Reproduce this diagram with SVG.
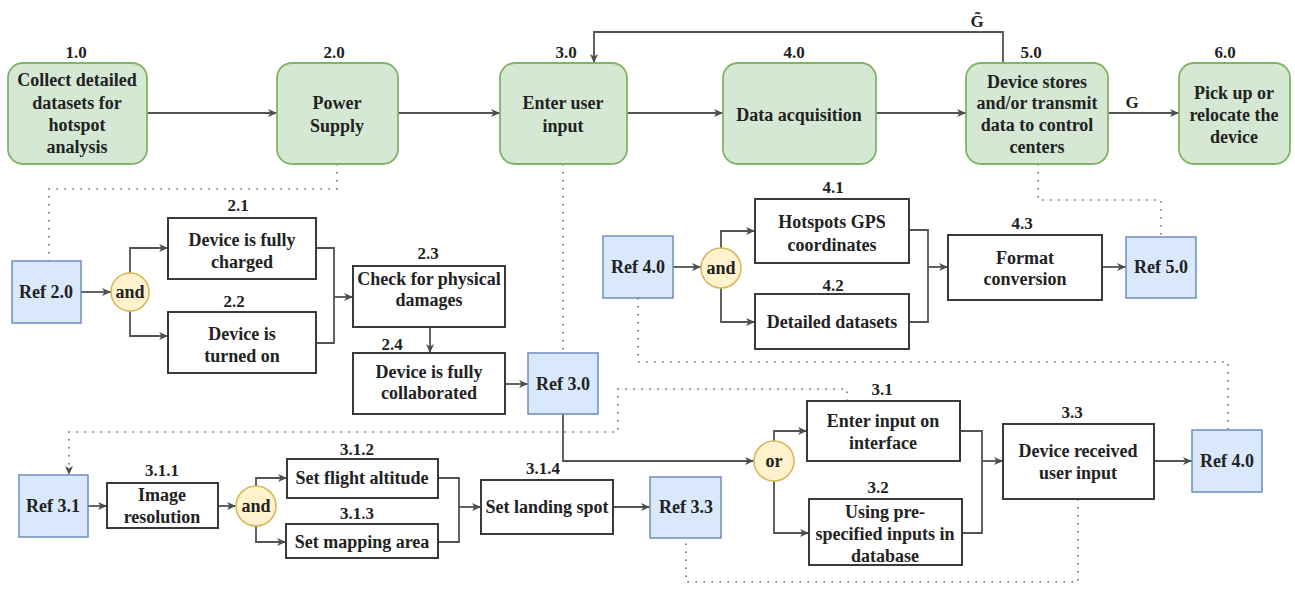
<svg xmlns="http://www.w3.org/2000/svg" width="1295" height="590" viewBox="0 0 1295 590">
<defs>
<marker id="arr" markerUnits="userSpaceOnUse" markerWidth="10" markerHeight="10" refX="9" refY="5" orient="auto">
<path d="M0,1 L9,5 L0,9 L2.5,5 z" fill="#4a4f48"/>
</marker>
<style>
text{font-family:"Liberation Serif","Times New Roman",serif;font-weight:bold;font-size:18px;fill:#222;text-anchor:middle}
.lbl{font-size:17px}
.green{fill:#d5e8d4;stroke:#82b366;stroke-width:1.8}
.ref{fill:#dae8fc;stroke:#6c8ebf;stroke-width:1.5}
.box{fill:#fff;stroke:#3a3a3a;stroke-width:2}
.gate{fill:#fff2cc;stroke:#d6b656;stroke-width:1.5}
.c{fill:none;stroke:#4f564d;stroke-width:1.8}
.a{marker-end:url(#arr)}
.dot{fill:none;stroke:#666;stroke-width:1.6;stroke-dasharray:1.6 6.4}
</style>
</defs>
<rect width="1295" height="590" fill="#fff"/>

<g id="connectors">
<path class="c a" d="M147,113 H277"/>
<path class="c a" d="M398,113 H500"/>
<path class="c a" d="M627,113 H723"/>
<path class="c a" d="M876,113 H966"/>
<path class="c a" d="M1108,113 H1179"/>
<path class="c a" d="M1003,63 V32 H594 V63"/>
<text class="lbl" x="1132" y="108">G</text>
<text class="lbl" x="977" y="27">G&#771;</text>

<path class="dot" d="M337,164 V189 H49 V261"/>
<path class="c a" d="M81,292 H111"/>
<path class="c a" d="M130,273 V248 H168"/>
<path class="c a" d="M130,311 V336 H168"/>
<path class="c" d="M316,248 H334 V343 H316"/>
<path class="c a" d="M334,297 H353"/>
<path class="c a" d="M430,327 V353"/>
<path class="c a" d="M505,384 H528"/>

<path class="dot" d="M563,164 V353"/>
<path class="c a" d="M673,267 H701"/>
<path class="c a" d="M721,248 V231 H755"/>
<path class="c a" d="M721,288 V322 H755"/>
<path class="c" d="M909,230 H928 V322 H909"/>
<path class="c a" d="M928,267 H948"/>
<path class="c a" d="M1102,267 H1126"/>
<path class="dot" d="M1038,164 V200 H1161 V237"/>
<path class="dot" d="M638,298 V362 H1228 V430"/>

<path class="c a" d="M563,414 V461 H754"/>
<path class="c a" d="M774,441 V431 H807"/>
<path class="c a" d="M774,481 V533 H809"/>
<path class="c" d="M960,431 H982 V533 H962"/>
<path class="c a" d="M982,461 H1003"/>
<path class="c a" d="M1154,461 H1192"/>
<path class="dot" d="M1078,499 V582 H686 V538"/>
<path class="dot a" d="M847,401 V389 H618 V432 H69 V475"/>

<path class="c a" d="M88,506 H107"/>
<path class="c a" d="M218,506 H236"/>
<path class="c a" d="M256,486 V478 H287"/>
<path class="c a" d="M256,526 V542 H286"/>
<path class="c" d="M438,478 H459 V542 H438"/>
<path class="c a" d="M459,507 H481"/>
<path class="c a" d="M613,507 H650"/>
</g>

<g id="n1_0">
<rect class="green" x="8" y="63" width="139" height="101" rx="15"/>
<text class="lbl" x="76" y="58">1.0</text>
<text x="77" y="86">Collect detailed</text>
<text x="77" y="109">datasets for</text>
<text x="77" y="131">hotspot</text>
<text x="77" y="153">analysis</text>
</g>
<g id="n2_0">
<rect class="green" x="277" y="63" width="121" height="101" rx="15"/>
<text class="lbl" x="334" y="58">2.0</text>
<text x="337" y="109">Power</text>
<text x="337" y="132">Supply</text>
</g>
<g id="n3_0">
<rect class="green" x="500" y="63" width="127" height="101" rx="15"/>
<text class="lbl" x="566" y="58">3.0</text>
<text x="563" y="109">Enter user</text>
<text x="563" y="132">input</text>
</g>
<g id="n4_0">
<rect class="green" x="723" y="63" width="153" height="101" rx="15"/>
<text class="lbl" x="794" y="58">4.0</text>
<text x="799" y="121">Data acquisition</text>
</g>
<g id="n5_0">
<rect class="green" x="966" y="63" width="142" height="101" rx="15"/>
<text class="lbl" x="1031" y="58">5.0</text>
<text x="1037" y="88">Device stores</text>
<text x="1037" y="109">and/or transmit</text>
<text x="1037" y="131">data to control</text>
<text x="1037" y="153">centers</text>
</g>
<g id="n6_0">
<rect class="green" x="1179" y="63" width="111" height="101" rx="15"/>
<text class="lbl" x="1225" y="58">6.0</text>
<text x="1234" y="99">Pick up or</text>
<text x="1234" y="121">relocate the</text>
<text x="1234" y="143">device</text>
</g>

<g id="ref2_0">
<rect class="ref" x="12" y="261" width="69" height="62"/>
<text x="46" y="298">Ref 2.0</text>
</g>
<g id="and1">
<circle class="gate" cx="130" cy="292" r="19"/>
<text x="130" y="298">and</text>
</g>
<g id="n2_1">
<rect class="box" x="168" y="218" width="148" height="61"/>
<text class="lbl" x="238" y="211">2.1</text>
<text x="242" y="246">Device is fully</text>
<text x="242" y="268">charged</text>
</g>
<g id="n2_2">
<rect class="box" x="168" y="312" width="148" height="61"/>
<text class="lbl" x="234" y="307">2.2</text>
<text x="242" y="340">Device is</text>
<text x="242" y="362">turned on</text>
</g>
<g id="n2_3">
<rect class="box" x="353" y="266" width="152" height="61"/>
<text class="lbl" x="428" y="259">2.3</text>
<text x="429" y="285">Check for physical</text>
<text x="429" y="306">damages</text>
</g>
<g id="n2_4">
<rect class="box" x="353" y="353" width="152" height="61"/>
<text class="lbl" x="392" y="350">2.4</text>
<text x="429" y="378">Device is fully</text>
<text x="429" y="399">collaborated</text>
</g>
<g id="ref3_0">
<rect class="ref" x="528" y="353" width="70" height="61"/>
<text x="563" y="390">Ref 3.0</text>
</g>

<g id="ref4_0a">
<rect class="ref" x="603" y="236" width="70" height="62"/>
<text x="638" y="273">Ref 4.0</text>
</g>
<g id="and2">
<circle class="gate" cx="721" cy="268" r="20"/>
<text x="721" y="274">and</text>
</g>
<g id="n4_1">
<rect class="box" x="755" y="199" width="154" height="64"/>
<text class="lbl" x="833" y="193">4.1</text>
<text x="832" y="228">Hotspots GPS</text>
<text x="832" y="251">coordinates</text>
</g>
<g id="n4_2">
<rect class="box" x="755" y="294" width="154" height="55"/>
<text class="lbl" x="833" y="291">4.2</text>
<text x="832" y="328">Detailed datasets</text>
</g>
<g id="n4_3">
<rect class="box" x="948" y="235" width="154" height="65"/>
<text class="lbl" x="1022" y="229">4.3</text>
<text x="1025" y="264">Format</text>
<text x="1025" y="285">conversion</text>
</g>
<g id="ref5_0">
<rect class="ref" x="1126" y="237" width="70" height="61"/>
<text x="1161" y="273">Ref 5.0</text>
</g>

<g id="or1">
<circle class="gate" cx="774" cy="461" r="20"/>
<text x="774" y="467">or</text>
</g>
<g id="n3_1">
<rect class="box" x="807" y="401" width="153" height="60"/>
<text class="lbl" x="882" y="395">3.1</text>
<text x="883" y="427">Enter input on</text>
<text x="883" y="449">interface</text>
</g>
<g id="n3_2">
<rect class="box" x="809" y="499" width="153" height="66"/>
<text class="lbl" x="878" y="493">3.2</text>
<text x="885" y="518">Using pre-</text>
<text x="885" y="540">specified inputs in</text>
<text x="885" y="562">database</text>
</g>
<g id="n3_3">
<rect class="box" x="1003" y="424" width="151" height="75"/>
<text class="lbl" x="1072" y="418">3.3</text>
<text x="1078" y="457">Device received</text>
<text x="1078" y="479">user input</text>
</g>
<g id="ref4_0b">
<rect class="ref" x="1192" y="430" width="70" height="62"/>
<text x="1227" y="467">Ref 4.0</text>
</g>

<g id="ref3_1">
<rect class="ref" x="19" y="475" width="69" height="62"/>
<text x="53" y="512">Ref 3.1</text>
</g>
<g id="n3_1_1">
<rect class="box" x="107" y="483" width="111" height="45"/>
<text class="lbl" x="162" y="476">3.1.1</text>
<text x="162" y="501">Image</text>
<text x="162" y="523">resolution</text>
</g>
<g id="and3">
<circle class="gate" cx="256" cy="506" r="20"/>
<text x="256" y="512">and</text>
</g>
<g id="n3_1_2">
<rect class="box" x="287" y="459" width="151" height="39"/>
<text class="lbl" x="357" y="455">3.1.2</text>
<text x="362" y="484">Set flight altitude</text>
</g>
<g id="n3_1_3">
<rect class="box" x="286" y="524" width="152" height="34"/>
<text class="lbl" x="357" y="519">3.1.3</text>
<text x="362" y="548">Set mapping area</text>
</g>
<g id="n3_1_4">
<rect class="box" x="481" y="480" width="132" height="54"/>
<text class="lbl" x="543" y="474">3.1.4</text>
<text x="547" y="513">Set landing spot</text>
</g>
<g id="ref3_3">
<rect class="ref" x="650" y="477" width="71" height="61"/>
<text x="686" y="513">Ref 3.3</text>
</g>
</svg>
